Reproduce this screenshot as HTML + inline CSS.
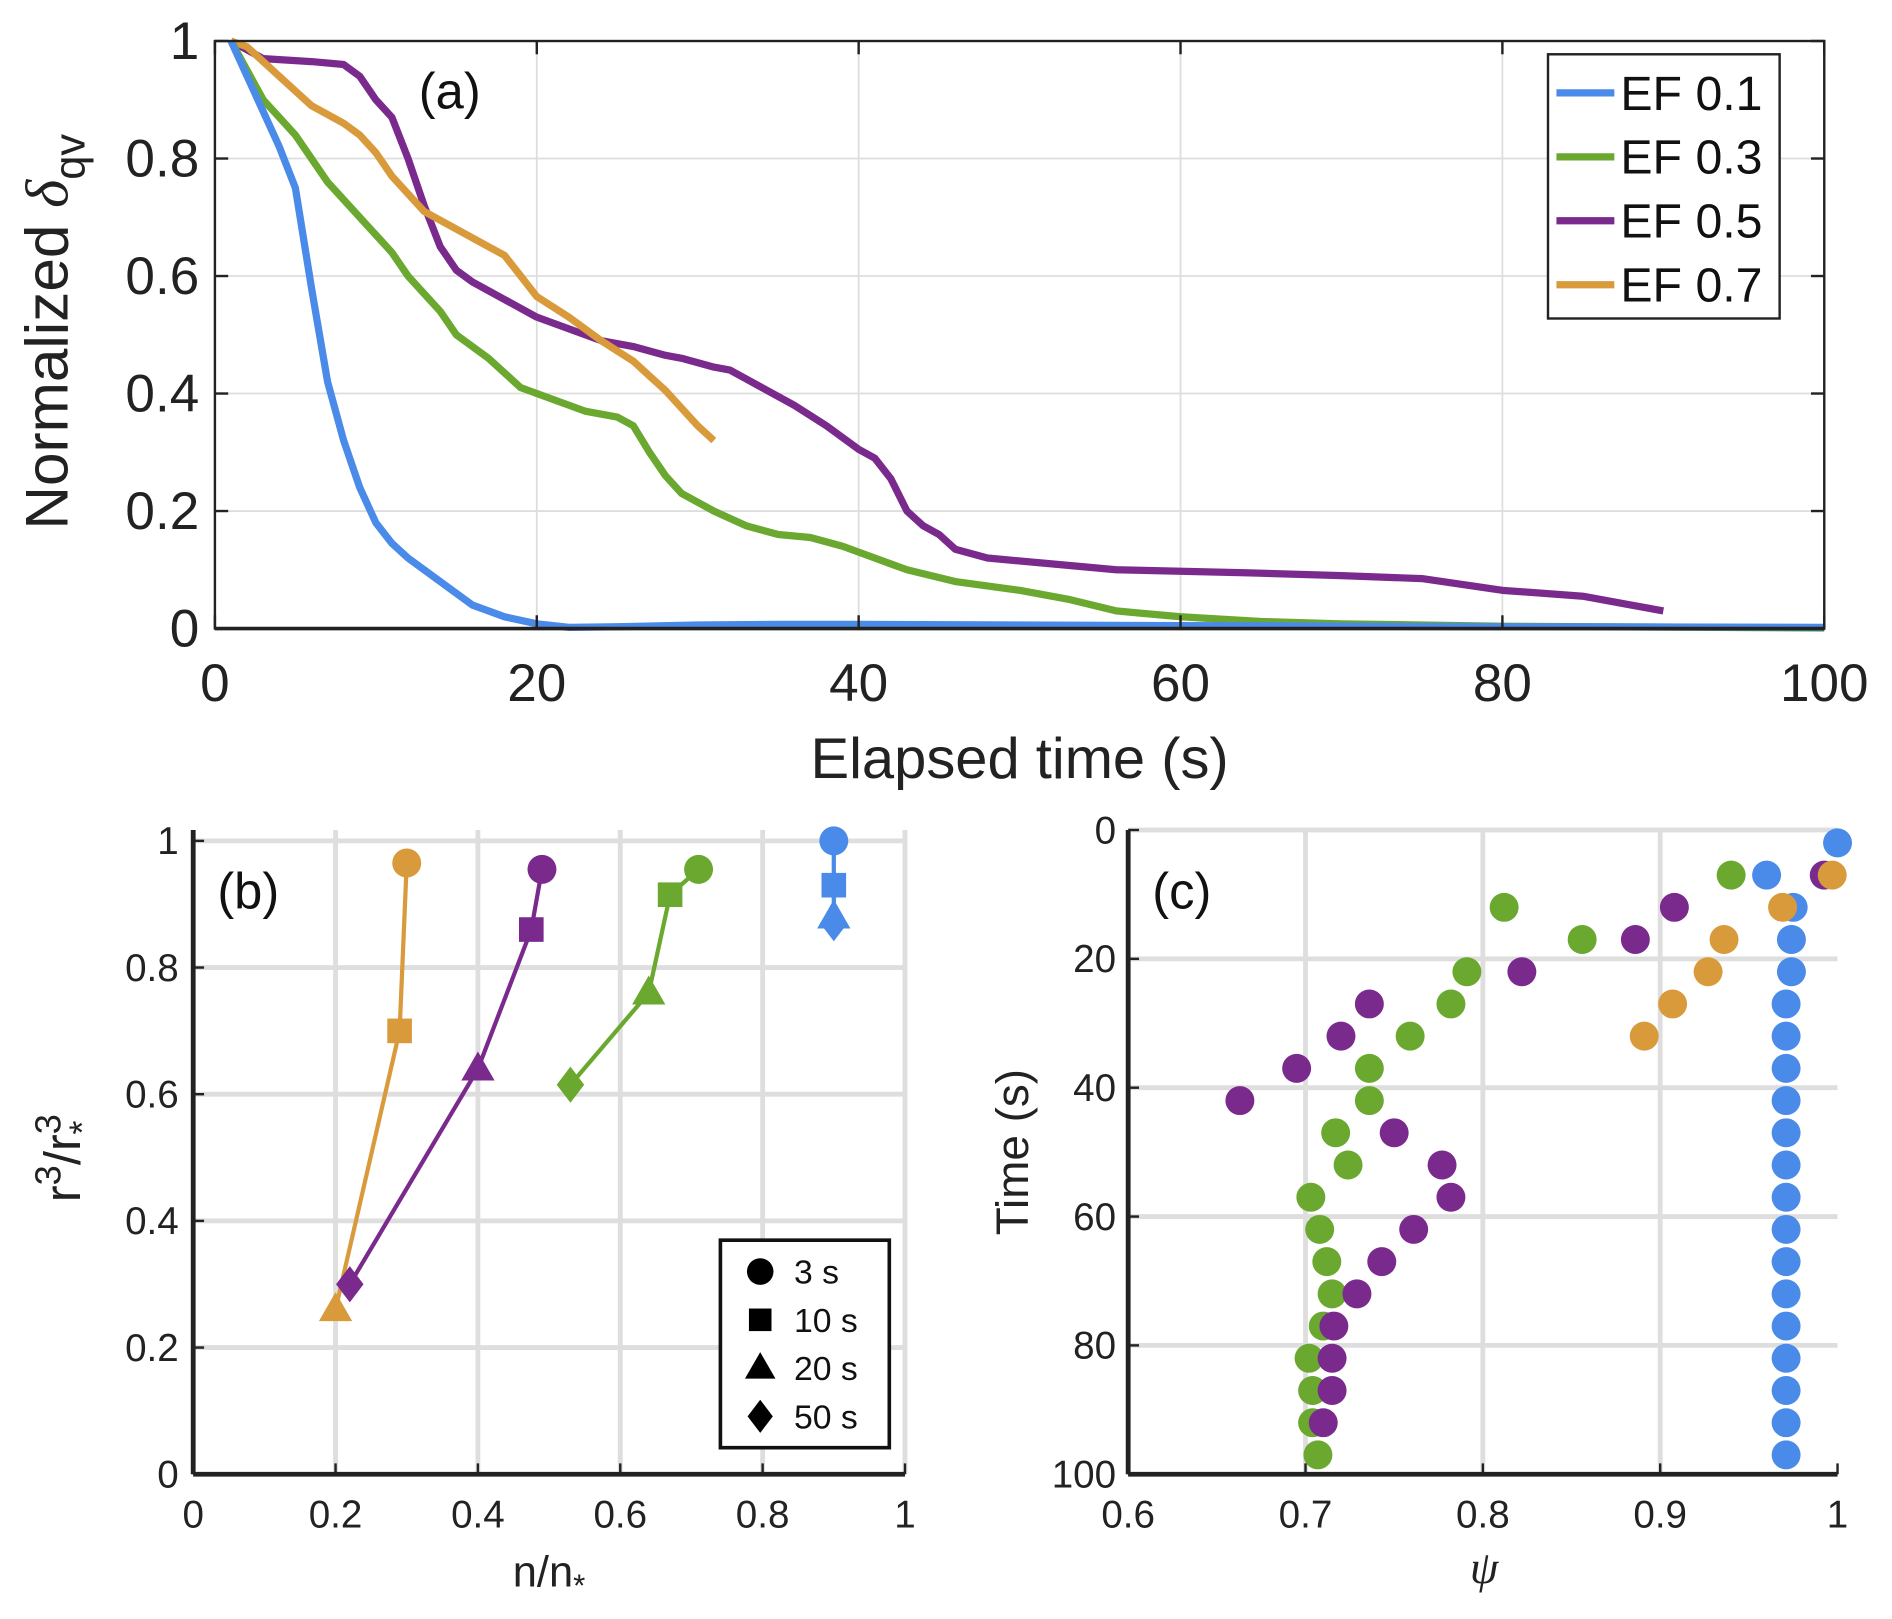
<!DOCTYPE html>
<html><head><meta charset="utf-8"><style>
html,body{margin:0;padding:0;background:#fff;}
svg{display:block;font-family:"Liberation Sans",Arial,sans-serif;}
</style></head><body>
<svg id="fig" width="1892" height="1619" viewBox="0 0 1568 1342" xmlns="http://www.w3.org/2000/svg"></svg>
<script>
// ---- Panel (a) data ----
const aSeriesNames = ["EF 0.1","EF 0.3","EF 0.5","EF 0.7"];
const aColors = ["#4a8ae8","#6aa82f","#7a2a8c","#d99a3c"];
const aBlueT = [1,3,4,5,6,7,8,9,10,11,12,14,16,18,20,22,25,30,35,40,60,80,100];
const aBlueV = [1,0.88,0.82,0.75,0.58,0.42,0.32,0.24,0.18,0.145,0.12,0.08,0.04,0.02,0.008,0.002,0.003,0.006,0.007,0.007,0.005,0.003,0.002];
const aGreenT = [1,3,5,7,9,11,12,14,15,17,19,21,23,25,26,27,28,29,31,33,35,37,39,41,43,46,50,53,56,60,65,70,80,100];
const aGreenV = [1,0.9,0.84,0.76,0.7,0.64,0.6,0.54,0.5,0.46,0.41,0.39,0.37,0.36,0.345,0.3,0.26,0.23,0.2,0.175,0.16,0.155,0.14,0.12,0.1,0.08,0.065,0.05,0.03,0.02,0.012,0.008,0.004,0.001];
const aPurpleT = [1,3,6,8,9,10,11,12,13,14,15,16,18,20,22,24,26,28,29,31,32,34,36,38,40,41,42,43,44,45,46,48,52,56,64,70,75,80,85,88,90];
const aPurpleV = [1,0.97,0.965,0.96,0.94,0.9,0.87,0.8,0.72,0.65,0.61,0.59,0.56,0.53,0.51,0.49,0.48,0.465,0.46,0.445,0.44,0.41,0.38,0.345,0.305,0.29,0.255,0.2,0.175,0.16,0.135,0.12,0.11,0.1,0.095,0.09,0.085,0.065,0.055,0.04,0.03];
const aOrangeT = [1,2,4,6,8,9,10,11,12,13,15,17,18,19,20,22,24,26,27,28,29,30,31];
const aOrangeV = [1,0.99,0.94,0.89,0.86,0.84,0.81,0.77,0.74,0.71,0.68,0.65,0.635,0.6,0.565,0.53,0.49,0.455,0.43,0.405,0.375,0.345,0.32];
const aXTicks = [0,20,40,60,80,100];
const aYTicks = [0,0.2,0.4,0.6,0.8,1];
const aYTickLabels = ["0","0.2","0.4","0.6","0.8","1"];

// ---- Panel (b) data ----
const bMarkers = ["circle","square","triangle","diamond"];
const bLegendLabels = ["3 s","10 s","20 s","50 s"];
const bOrangeN = [0.30,0.29,0.20]; const bOrangeR = [0.965,0.70,0.26];
const bPurpleN = [0.49,0.475,0.40,0.22]; const bPurpleR = [0.955,0.86,0.64,0.30];
const bGreenN = [0.71,0.67,0.64,0.53]; const bGreenR = [0.955,0.915,0.76,0.615];
const bBlueN = [0.90,0.90,0.90,0.90]; const bBlueR = [1.0,0.93,0.88,0.87];
const bTicks = [0,0.2,0.4,0.6,0.8,1];
const bTickLabels = ["0","0.2","0.4","0.6","0.8","1"];

// ---- Panel (c) data ----
const cBlueT = [2,7,12,17,22,27,32,37,42,47,52,57,62,67,72,77,82,87,92,97];
const cBlueP = [1.0,0.96,0.975,0.974,0.974,0.971,0.971,0.971,0.971,0.971,0.971,0.971,0.971,0.971,0.971,0.971,0.971,0.971,0.971,0.971];
const cGreenT = [7,12,17,22,27,32,37,42,47,52,57,62,67,72,77,82,87,92,97];
const cGreenP = [0.94,0.812,0.856,0.791,0.782,0.759,0.736,0.736,0.717,0.724,0.703,0.708,0.712,0.715,0.71,0.702,0.704,0.704,0.707];
const cPurpleT = [7,12,17,22,27,32,37,42,47,52,57,62,67,72,77,82,87,92];
const cPurpleP = [0.9925,0.908,0.886,0.822,0.736,0.72,0.695,0.663,0.75,0.777,0.782,0.761,0.743,0.729,0.716,0.715,0.715,0.71];
const cOrangeT = [7,12,17,22,27,32];
const cOrangeP = [0.997,0.969,0.936,0.927,0.907,0.891];
const cXTicks = [0.6,0.7,0.8,0.9,1];
const cXTickLabels = ["0.6","0.7","0.8","0.9","1"];
const cYTicks = [0,20,40,60,80,100];

const NS = "http://www.w3.org/2000/svg";
const svg = document.getElementById("fig");
function mk(tag, attrs, parent){
  const e = document.createElementNS(NS, tag);
  for (const k in attrs) e.setAttribute(k, attrs[k]);
  (parent||svg).appendChild(e);
  return e;
}
function txt(s, attrs, parent){ const e = mk("text", attrs, parent); e.textContent = s; return e; }

// ===== Panel (a) =====
const ax = t => 178 + (t/100)*(1512-178);
const ay = v => 521 - v*(521-34);
const ga = mk("g", {});


aXTicks.forEach(t => { if (t>0 && t<100) { const l = mk("line",{x1:ax(t),x2:ax(t),y1:34,y2:521,stroke:"#dedede","stroke-width":1.5},ga);
  
   }});
aYTicks.forEach(v => { if (v>0 && v<1) { const l = mk("line",{x1:178,x2:1512,y1:ay(v),y2:ay(v),stroke:"#dedede","stroke-width":1.5},ga);
  
   }});
const aSeries = [[aBlueT,aBlueV],[aGreenT,aGreenV],[aPurpleT,aPurpleV],[aOrangeT,aOrangeV]];
const aOrder = [2,3,1,0];
aOrder.forEach(i => {
  const [T,V] = aSeries[i];
  const p = mk("polyline",{points:T.map((t,j)=>ax(t)+","+ay(V[j])).join(" "),fill:"none",stroke:aColors[i],"stroke-width":6,"stroke-linejoin":"round"},ga);
  
  
});
const aBox = mk("rect",{x:178,y:34,width:1334,height:487,fill:"none",stroke:"#222","stroke-width":2},ga);


mk("line",{x1:178,x2:1512,y1:521,y2:521,stroke:"#222","stroke-width":3},ga);
aXTicks.forEach(t => {
  mk("line",{x1:ax(t),x2:ax(t),y1:521,y2:510,stroke:"#222","stroke-width":2},ga);
  mk("line",{x1:ax(t),x2:ax(t),y1:34,y2:45,stroke:"#222","stroke-width":2},ga);
  const tl = txt(String(t),{x:ax(t),y:581,"font-size":44,"text-anchor":"middle",fill:"#222"},ga);
  
  
});
aYTicks.forEach((v,i) => {
  mk("line",{x1:178,x2:189,y1:ay(v),y2:ay(v),stroke:"#222","stroke-width":2},ga);
  mk("line",{x1:1512,x2:1501,y1:ay(v),y2:ay(v),stroke:"#222","stroke-width":2},ga);
  const tl = txt(aYTickLabels[i],{x:165,y:ay(v)+15,"font-size":44,"text-anchor":"end",fill:"#222"},ga);
  
  
});
const aXl = txt("Elapsed time (s)",{x:845,y:645,"font-size":48,"text-anchor":"middle",fill:"#222"},ga);


const aYl = mk("text",{transform:"translate(56,275) rotate(-90)","font-size":50,"text-anchor":"middle",fill:"#222"},ga);
aYl.innerHTML = 'Normalized <tspan font-family="Liberation Serif" font-style="italic">δ</tspan><tspan font-size="36" dy="14">qv</tspan>';


const aLab = txt("(a)",{x:347,y:90,"font-size":42,fill:"#111"},ga);


const aLeg = mk("g",{},ga);


mk("rect",{x:1283,y:45,width:192,height:219,fill:"#fff",stroke:"#222","stroke-width":2},aLeg);
aSeriesNames.forEach((n,i) => {
  const y = 77 + i*53;
  const e = mk("g",{},aLeg);
  
  
  mk("line",{x1:1290,x2:1338,y1:y,y2:y,stroke:aColors[i],"stroke-width":6},e);
  txt(n,{x:1343,y:y+14,"font-size":40,fill:"#111"},e);
});

// ===== marker helper =====
function marker(kind, x, y, r, color, parent){
  let e;
  if (kind==="circle") e = mk("circle",{cx:x,cy:y,r:r,fill:color},parent);
  else if (kind==="square") e = mk("rect",{x:x-r*0.85,y:y-r*0.85,width:r*1.7,height:r*1.7,fill:color},parent);
  else if (kind==="triangle") e = mk("polygon",{points:`${x},${y-r*1.2} ${x+r*1.15},${y+r*0.8} ${x-r*1.15},${y+r*0.8}`,fill:color},parent);
  else e = mk("polygon",{points:`${x},${y-r*1.25} ${x+r*0.95},${y} ${x},${y+r*1.25} ${x-r*0.95},${y}`,fill:color},parent);
  return e;
}

// ===== Panel (b) =====
const bx = n => 160 + n*(750-160);
const by = r => 1222 - r*(1222-697);
const gb = mk("g",{});


bTicks.forEach(t => { if (t>0) {
  const l1 = mk("line",{x1:bx(t),x2:bx(t),y1:688,y2:1222,stroke:"#dedede","stroke-width":4},gb);
  
  
  const l2 = mk("line",{x1:160,x2:750,y1:by(t),y2:by(t),stroke:"#dedede","stroke-width":4},gb);
  
  
}});
const bSeries = [[bOrangeN,bOrangeR,3],[bPurpleN,bPurpleR,2],[bGreenN,bGreenR,1],[bBlueN,bBlueR,0]];
bSeries.forEach(([N,R,ci]) => {
  const p = mk("polyline",{points:N.map((n,j)=>bx(n)+","+by(R[j])).join(" "),fill:"none",stroke:aColors[ci],"stroke-width":3.5},gb);
  
  
  N.forEach((n,j) => {
    const m = marker(bMarkers[j], bx(n), by(R[j]), 12, aColors[ci], gb);
    
    
  });
});
mk("line",{x1:160,x2:160,y1:688,y2:1222,stroke:"#222","stroke-width":4},gb);
mk("line",{x1:160,x2:750,y1:1222,y2:1222,stroke:"#222","stroke-width":4},gb);
bTicks.forEach((t,i) => {
  mk("line",{x1:bx(t),x2:bx(t),y1:1222,y2:1213,stroke:"#222","stroke-width":2},gb);
  mk("line",{x1:160,x2:169,y1:by(t),y2:by(t),stroke:"#222","stroke-width":2},gb);
  const xl = txt(bTickLabels[i],{x:bx(t),y:1266,"font-size":32,"text-anchor":"middle",fill:"#222"},gb);
  
  
  const yl = txt(bTickLabels[i],{x:148,y:by(t)+11,"font-size":32,"text-anchor":"end",fill:"#222"},gb);
  
  
});
const bXl = mk("text",{x:455,y:1315,"font-size":36,"text-anchor":"middle",fill:"#222"},gb);
bXl.innerHTML = 'n/n<tspan font-size="26" dy="8">*</tspan>';


const bYl = mk("text",{transform:"translate(66,960) rotate(-90)","font-size":42,"text-anchor":"middle",fill:"#222"},gb);
bYl.innerHTML = 'r<tspan font-size="30" dy="-16">3</tspan><tspan dy="16">/r</tspan><tspan font-size="30" dy="-16">3</tspan><tspan font-size="30" dx="-17" dy="28">*</tspan>';


const bLab = txt("(b)",{x:180,y:753,"font-size":42,fill:"#111"},gb);


const bLeg = mk("g",{},gb);


mk("rect",{x:597,y:1028,width:140,height:172,fill:"#fff",stroke:"#111","stroke-width":3},bLeg);
bLegendLabels.forEach((s,i) => {
  const y = 1054 + i*40;
  const e = mk("g",{},bLeg);
  
  
  marker(bMarkers[i], 630, y, 11, "#000", e);
  txt(s,{x:658,y:y+10,"font-size":28,fill:"#111"},e);
});

// ===== Panel (c) =====
const cx = p => 935 + (p-0.6)/0.4*(1523-935);
const cy = t => 688 + t/100*(1222-688);
const gc = mk("g",{});


cXTicks.forEach(p => { if (p>0.6 && p<1) { const l = mk("line",{x1:cx(p),x2:cx(p),y1:688,y2:1222,stroke:"#dedede","stroke-width":4},gc);
  
   }});
cYTicks.forEach(t => { if (t<100) { const l = mk("line",{x1:935,x2:1523,y1:cy(t),y2:cy(t),stroke:"#dedede","stroke-width":4},gc);
  
   }});
const cSeries = [[cBlueT,cBlueP,0],[cGreenT,cGreenP,1],[cPurpleT,cPurpleP,2],[cOrangeT,cOrangeP,3]];
cSeries.forEach(([T,P,ci]) => {
  T.forEach((t,j) => {
    const c = mk("circle",{cx:cx(P[j]),cy:cy(t),r:12,fill:aColors[ci]},gc);
    
    
  });
});
mk("line",{x1:935,x2:935,y1:688,y2:1222,stroke:"#222","stroke-width":4},gc);
mk("line",{x1:935,x2:1523,y1:1222,y2:1222,stroke:"#222","stroke-width":4},gc);
cXTicks.forEach((p,i) => {
  mk("line",{x1:cx(p),x2:cx(p),y1:1222,y2:1213,stroke:"#222","stroke-width":2},gc);
  const xl = txt(cXTickLabels[i],{x:cx(p),y:1266,"font-size":32,"text-anchor":"middle",fill:"#222"},gc);
  
  
});
cYTicks.forEach(t => {
  mk("line",{x1:935,x2:944,y1:cy(t),y2:cy(t),stroke:"#222","stroke-width":2},gc);
  const yl = txt(String(t),{x:925,y:cy(t)+11,"font-size":32,"text-anchor":"end",fill:"#222"},gc);
  
  
});
const cXl = txt("ψ",{x:1230,y:1312,"font-size":38,"text-anchor":"middle","font-style":"italic","font-family":"Liberation Serif, serif",fill:"#222"},gc);


const cYl = txt("Time (s)",{transform:"translate(852,955) rotate(-90)","font-size":38,"text-anchor":"middle",fill:"#222"},gc);


const cLab = txt("(c)",{x:955,y:753,"font-size":42,fill:"#111"},gc);


</script>
</body></html>
